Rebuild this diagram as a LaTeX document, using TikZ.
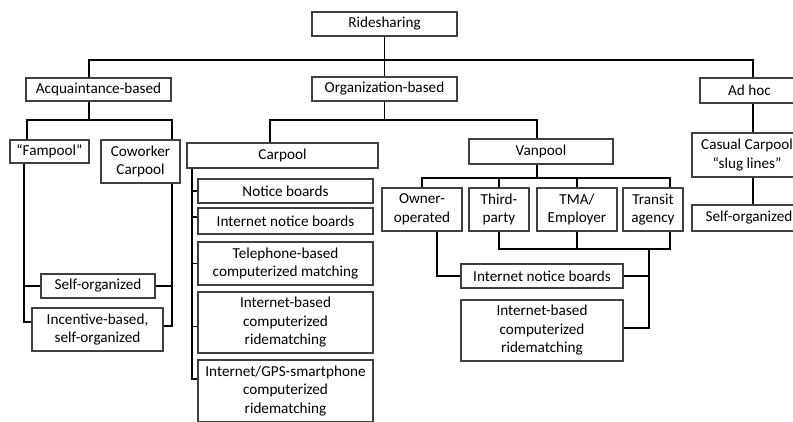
\documentclass[tikz,border=0pt]{standalone}
\usepackage{fontspec}
\setmainfont{Carlito}
\usepackage{tikz}
\usetikzlibrary{positioning}

\begin{document}
\begin{tikzpicture}[
    x=1pt, y=-1pt,
    font=\fontsize{15.2}{18.5}\selectfont,
    box/.style={draw=black!75, line width=1.1pt, fill=white, align=center, inner sep=0pt},
    link/.style={black, line width=1.7pt}
]
\useasboundingbox (0,0) rectangle (793,421);

% top levels
\node[box, minimum width=145, minimum height=24] (ride) at (384.5,24) {Ridesharing};
\node[box, minimum width=145, minimum height=23] (acq) at (98.5,89.5) {Acquaintance-based};
\node[box, minimum width=145, minimum height=24] (org) at (384.5,89) {Organization-based};
\node[box, minimum width=99, minimum height=25] (adhoc) at (749.5,90.5) {Ad hoc};

% acquaintance-based branch
\node[box, minimum width=79, minimum height=23] (fam) at (49.5,151.5) {“Fampool”};
\node[box, minimum width=79, minimum height=43] (cow) at (140.5,161.5) {Coworker\\Carpool};
\node[box, minimum width=114, minimum height=24] (selfA) at (98,286) {Self-organized};
\node[box, minimum width=131, minimum height=43] (inc) at (97.5,329.5) {Incentive-based,\\self-organized};

% organization-based branch
\node[box, minimum width=191, minimum height=25] (car) at (282.5,155.5) {Carpool};
\node[box, minimum width=144, minimum height=25] (van) at (541,151.5) {Vanpool};

\node[box, minimum width=175, minimum height=24] (nb1) at (285.5,191) {Notice boards};
\node[box, minimum width=175, minimum height=26] (inb1) at (285.5,221) {Internet notice boards};
\node[box, minimum width=175, minimum height=43] (tel) at (285.5,263.5) {Telephone-based\\computerized matching};
\node[box, minimum width=175, minimum height=61] (inr1) at (285.5,322.5) {Internet-based\\computerized\\ridematching};
\node[box, minimum width=175, minimum height=62] (gps) at (285.5,391) {Internet/GPS-smartphone\\computerized\\ridematching};

\node[box, minimum width=80, minimum height=43] (own) at (422,209.5) {Owner-\\operated};
\node[box, minimum width=60, minimum height=43] (third) at (499,209.5) {Third-\\party};
\node[box, minimum width=80, minimum height=43] (tma) at (577,209.5) {TMA/\\Employer};
\node[box, minimum width=60, minimum height=43] (trans) at (653,209.5) {Transit\\agency};
\node[box, minimum width=162, minimum height=24] (inb2) at (542,276) {Internet notice boards};
\node[box, minimum width=162, minimum height=61] (inr2) at (542,330.5) {Internet-based\\computerized\\ridematching};

% ad hoc branch
\node[box, minimum width=110, minimum height=44] (cas) at (747,155) {Casual Carpool\\“slug lines”};
\node[box, minimum width=114, minimum height=26] (selfC) at (749,218) {Self-organized};

% bus joints
\coordinate (hub) at (384.5,60);
\coordinate (busA) at (89,120);
\coordinate (busO) at (384.5,120);
\coordinate (busV) at (537,178);
\coordinate (busL) at (577,249);
\coordinate (busR) at (649,249);

% level one
\draw[link] (ride) -- (org);
\draw[link] ([xshift=-9.5]acq.north) |- (hub) -| ([xshift=3.5]adhoc.north);

% acquaintance-based
\draw[link] ([xshift=-9.5]acq.south) -- (busA);
\draw[link] ([xshift=-22.5]fam.north) |- (busA) -| ([xshift=31.5]cow.north);
\draw[link] ([xshift=-25.5]fam.south) |- (selfA.west);
\draw[link] ([xshift=-25.5]fam.south) |- ([yshift=7.5]inc.west);
\draw[link] ([xshift=31.5]cow.south) |- (selfA.east);
\draw[link] ([xshift=31.5]cow.south) |- ([yshift=3.5]inc.east);

% organization-based
\draw[link] (org) -- (busO);
\draw[link] ([xshift=-12.5]car.north) |- (busO) -| ([xshift=-4]van.north);
\foreach \item/\dy in {nb1/0, inb1/4, tel/0, inr1/-4, gps/12}
    \draw[link] ([xshift=-90.5]car.south) |- ([yshift=\dy]\item.west);

% vanpool
\draw[link] ([xshift=-4]van.south) -- (busV);
\draw[link] (own.north) |- (busV) -| ([xshift=17]trans.north);
\draw[link] (third.north) -- (third.north |- busV);
\draw[link] (tma.north) -- (tma.north |- busV);
\draw[link] (third.south) |- (busL) -| ([xshift=17]trans.south);
\draw[link] (tma.south) -- (busL);
\draw[link] ([xshift=15]own.south) |- (inb2.west);
\draw[link] (busR) |- (inb2.east);
\draw[link] (busR) |- ([yshift=2.5]inr2.east);

% ad hoc
\draw[link] ([xshift=3.5]adhoc.south) -- ([xshift=6]cas.north);
\draw[link] ([xshift=6]cas.south) -- ([xshift=4]selfC.north);
\end{tikzpicture}
\end{document}
